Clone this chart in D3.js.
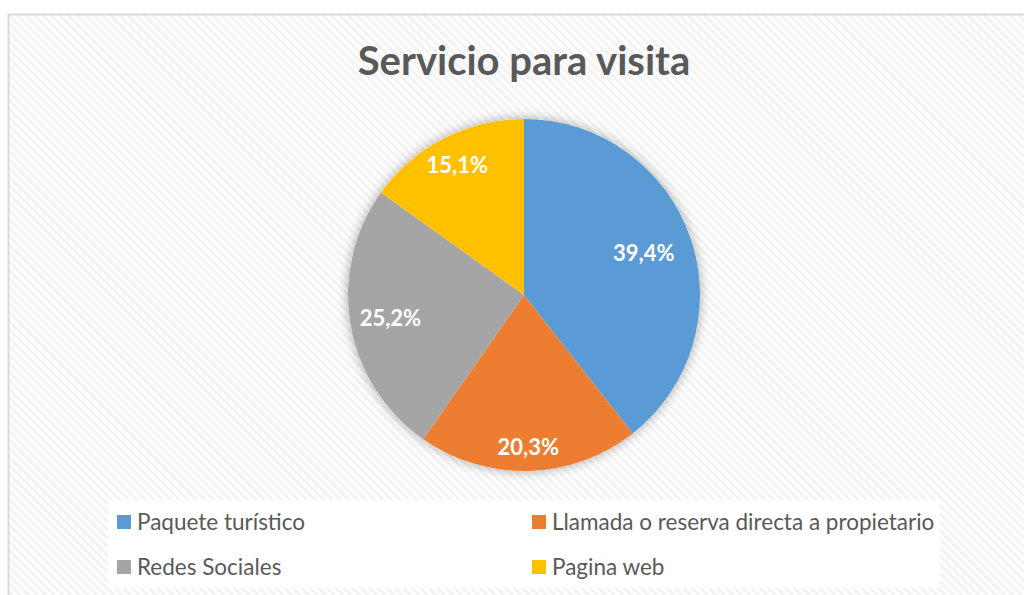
<!DOCTYPE html>
<html>
<head>
<meta charset="utf-8">
<script src="https://cdn.jsdelivr.net/npm/d3@7"></script>
<style>
  html, body { margin: 0; padding: 0; background: #fff; }
  svg { display: block; font-family: Lato, "Open Sans", sans-serif; }
</style>
</head>
<body>
<svg id="chart" width="1024" height="595"></svg>
<script>
var categories = ["Paquete turístico", "Llamada o reserva directa a propietario", "Redes Sociales", "Pagina web"];
var values = [39.4, 20.3, 25.2, 15.1];
var colors = ["#5b9bd5", "#ed7d31", "#a5a5a5", "#ffc000"];

(function pie() {
    var svg = d3.select("#chart"),
        cx = 524, cy = 295, radius = 176;

    // label distance from centre, as a share of the radius (Excel "best fit")
    var labelPos = [0.72, 0.865, 0.77, 0.83];

    var defs = svg.append("defs");
    var pat = defs.append("pattern")
        .attr("id", "hatch")
        .attr("patternUnits", "userSpaceOnUse")
        .attr("width", 6).attr("height", 6)
        .attr("patternTransform", "rotate(-45)");
    pat.append("rect").attr("width", 6).attr("height", 6).attr("fill", "#ffffff");
    pat.append("rect").attr("width", 3).attr("height", 6).attr("fill", "#f3f3f3");

    var filt = defs.append("filter").attr("id", "shadow")
        .attr("x", "-20%").attr("y", "-20%").attr("width", "140%").attr("height", "140%");
    filt.append("feGaussianBlur").attr("in", "SourceAlpha").attr("stdDeviation", 6);
    filt.append("feComponentTransfer").append("feFuncA").attr("type", "linear").attr("slope", 0.35);
    var merge = filt.append("feMerge");
    merge.append("feMergeNode");
    merge.append("feMergeNode").attr("in", "SourceGraphic");

    svg.append("rect")
        .attr("x", 8.5).attr("y", 14.5)
        .attr("width", 1030).attr("height", 600)
        .attr("fill", "url(#hatch)")
        .attr("stroke", "#d9d9d9")
        .attr("stroke-width", 2);

    svg.append("text")
        .attr("x", cx).attr("y", 75)
        .attr("text-anchor", "middle")
        .attr("fill", "#595959")
        .attr("font-size", 40)
        .attr("font-weight", "bold")
        .text("Servicio para visita");

    var data = categories.map(function(c, i) { return {name: c, value: values[i], color: colors[i]}; });

    var arcs = d3.pie().sort(null).value(function(d) { return d.value; })(data);
    var arc = d3.arc().innerRadius(0).outerRadius(radius);

    var g = svg.append("g").attr("transform", "translate(" + cx + "," + cy + ")");

    g.append("circle").attr("r", radius).attr("fill", "#fff").attr("filter", "url(#shadow)");

    g.selectAll("path.slice")
        .data(arcs)
        .enter().append("path")
        .attr("class", "slice")
        .attr("d", arc)
        .attr("fill", function(d) { return d.data.color; });

    g.selectAll("text.lbl")
        .data(arcs)
        .enter().append("text")
        .attr("class", "lbl")
        .attr("transform", function(d, i) {
            var r = radius * labelPos[i];
            return "translate(" + d3.arc().innerRadius(r).outerRadius(r).centroid(d) + ")";
        })
        .attr("text-anchor", "middle")
        .attr("dy", "0.35em")
        .attr("fill", "#fff")
        .attr("font-size", 22)
        .attr("font-weight", "bold")
        .text(function(d) { return d3.format(".1f")(d.data.value).replace(".", ",") + "%"; });

    // legend
    var lg = svg.append("g");
    lg.append("rect")
        .attr("x", 108).attr("y", 500)
        .attr("width", 832).attr("height", 88)
        .attr("fill", "#fff");

    var item = lg.selectAll("g.item")
        .data(data)
        .enter().append("g")
        .attr("class", "item")
        .attr("transform", function(d, i) {
            return "translate(" + (i % 2 ? 532 : 117) + "," + (i < 2 ? 522 : 567) + ")";
        });
    item.append("rect")
        .attr("x", 0).attr("y", -7)
        .attr("width", 14).attr("height", 14)
        .attr("fill", function(d) { return d.color; });
    item.append("text")
        .attr("x", 20).attr("dy", "0.35em")
        .attr("fill", "#595959")
        .attr("font-size", 22.5)
        .text(function(d) { return d.name; });
})();
</script>
</body>
</html>
